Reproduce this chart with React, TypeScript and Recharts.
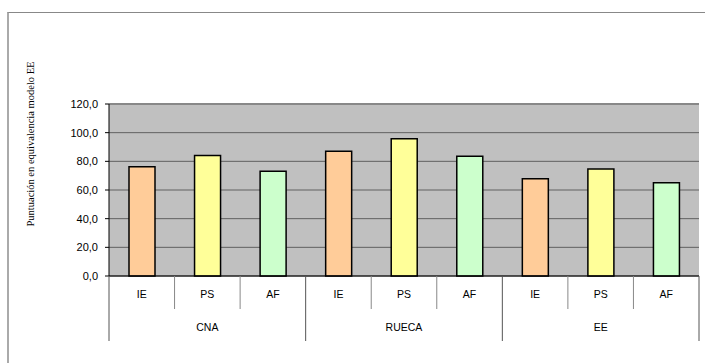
import { Bar, BarChart, CartesianGrid, Cell, ReferenceLine, XAxis, YAxis } from 'recharts';

const groups = ['CNA', 'RUECA', 'EE'];
const measures = ['IE', 'PS', 'AF'];
const cnaValues = [76.3, 84.0, 73.0];
const ruecaValues = [87.0, 95.8, 83.5];
const eeValues = [67.9, 74.7, 65.1];
const yTicks = [0, 20, 40, 60, 80, 100, 120];
const yTitle = 'Puntuación en equivalencia modelo EE';

const measureColors: Record<string, string> = {
  IE: '#FFCC99',
  PS: '#FFFF99',
  AF: '#CCFFCC',
};

const valuesByGroup = [cnaValues, ruecaValues, eeValues];
const rows = groups.flatMap((group, gi) =>
  measures.map((measure, mi) => ({
    key: `${group}-${measure}`,
    group,
    measure,
    value: valuesByGroup[gi][mi],
  })),
);

const fmt = (v: number) => v.toFixed(1).replace('.', ',');

// two-level category labels: measure on the first row, group on the second
function TwoLevelTick(props: any) {
  const { x, y, payload } = props;
  const idx: number = payload.index ?? 0;
  const half: number = payload.offset ?? 32.8;
  const row = rows[idx];
  if (!row) return null;
  const left = x - half;
  const right = x + half;
  const top = y - 8;
  const pos = idx % measures.length;
  const isLast = idx === rows.length - 1;
  return (
    <g>
      <line
        x1={left}
        x2={left}
        y1={top}
        y2={pos === 0 ? top + 65 : top + 33}
        stroke={pos === 0 ? '#555' : '#888'}
      />
      {isLast && <line x1={right} x2={right} y1={top} y2={top + 65} stroke="#555" />}
      <text
        x={x}
        y={top + 22}
        textAnchor="middle"
        fontSize={10.5}
        fontFamily="Arial, 'Liberation Sans', sans-serif"
        fill="#000"
      >
        {row.measure}
      </text>
      {pos === 1 && (
        <text
          x={x}
          y={top + 55}
          textAnchor="middle"
          fontSize={10.5}
          fontFamily="Arial, 'Liberation Sans', sans-serif"
          fill="#000"
        >
          {row.group}
        </text>
      )}
    </g>
  );
}

export default function App() {
  return (
    <div
      style={{
        position: 'fixed',
        left: 0,
        top: 0,
        width: 705,
        height: 363,
        background: '#fff',
        overflow: 'hidden',
      }}
    >
      <div
        style={{
          position: 'absolute',
          left: 7,
          top: 12,
          width: 720,
          height: 400,
          borderTop: '1px solid #888',
          borderLeft: '2px solid #aaa',
        }}
      />
      <div style={{ position: 'absolute', left: 0, top: 0 }}>
        <BarChart
          width={705}
          height={363}
          data={rows}
          margin={{ top: 104, right: 6, bottom: 0, left: 49 }}
          barSize={26}
        >
          <CartesianGrid
            yAxisId="left"
            vertical={false}
            fill="#C0C0C0"
            stroke="#606060"
            strokeOpacity={1}
          />
          <XAxis
            dataKey="key"
            interval={0}
            axisLine={{ stroke: '#000' }}
            tickLine={false}
            tick={<TwoLevelTick />}
            height={87}
          />
          <YAxis
            yAxisId="left"
            domain={[0, 120]}
            ticks={yTicks}
            interval={0}
            width={60}
            tickFormatter={fmt}
            axisLine={{ stroke: '#000' }}
            tickLine={{ stroke: '#000' }}
            tickSize={4}
            tick={{
              fontSize: 11,
              fill: '#000',
              fontFamily: "Arial, 'Liberation Sans', sans-serif",
              dx: -5,
            }}
          />
          <YAxis
            yAxisId="right"
            orientation="right"
            domain={[0, 120]}
            width={0}
            tick={false}
            tickLine={false}
            axisLine={{ stroke: '#888', strokeWidth: 2 }}
          />
          <ReferenceLine yAxisId="left" y={120} stroke="#888" strokeWidth={2} />
          <Bar
            yAxisId="left"
            dataKey="value"
            stroke="#000"
            strokeWidth={1.5}
            isAnimationActive={false}
          >
            {rows.map((r) => (
              <Cell key={r.key} fill={measureColors[r.measure]} />
            ))}
          </Bar>
        </BarChart>
      </div>
      <svg
        width={705}
        height={363}
        style={{ position: 'absolute', left: 0, top: 0, pointerEvents: 'none' }}
      >
        <text
          transform="translate(34,144) rotate(-90)"
          textAnchor="middle"
          fontSize={10.5}
          fontFamily="'Times New Roman', 'Liberation Serif', serif"
          fill="#000"
        >
          {yTitle}
        </text>
      </svg>
    </div>
  );
}
